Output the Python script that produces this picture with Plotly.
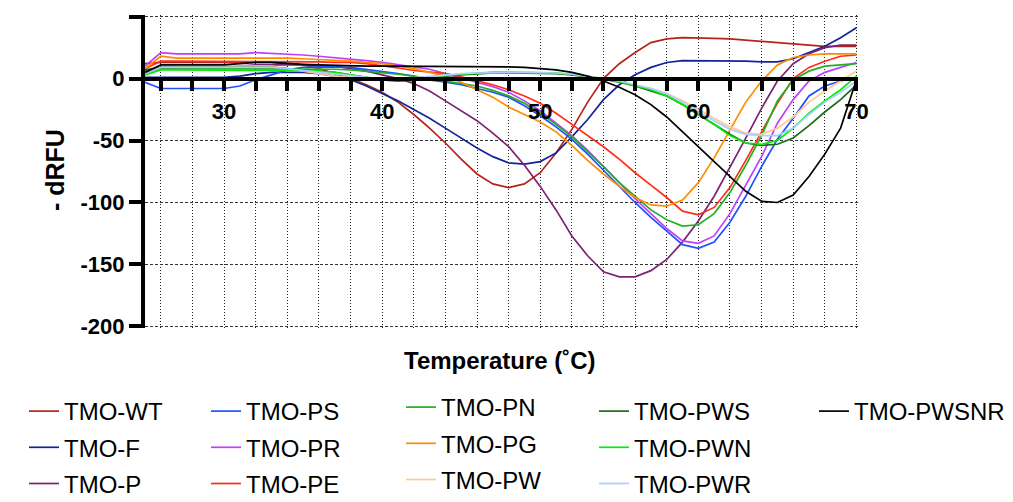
import plotly.graph_objects as go

temps = list(range(25, 71))

tmo_wt = [12, 13, 13, 13, 13, 13, 13, 13, 13, 12, 11, 8, 4, 0, -5, -11, -19, -29, -40, -52,
          -65, -77, -85, -88, -85, -76, -60, -41, -19, 0, 12, 21, 29, 32, 33, 33, 32.5, 32, 31, 30,
          29, 28, 27, 26, 26, 26]
tmo_f = [1, 1, 1, 1, 1, 1, 2, 4, 5, 5, 5, 4, 2, -1, -6, -12, -18, -25, -32, -40,
         -48, -56, -63, -68, -69, -67, -60, -47, -33, -17, -5, 3, 9, 13, 14.5, 14.5, 14.5, 14.5, 14, 13.5,
         13.5, 16, 21, 26, 33, 41]
tmo_p = [6, 9, 9, 9, 9, 9, 10, 11, 11, 11, 11, 10, 10, 8, 6, 3, 0, -4, -10, -18,
         -26, -34, -44, -55, -70, -87, -106, -127, -143, -156, -160, -160, -155, -146, -132, -115, -95, -72, -48, -24,
         -2, 12, 20, 25, 27, 27]
tmo_ps = [-3, -8, -8, -8, -8, -8, -6, -1, 3, 7, 9, 9.5, 9.5, 9, 7.5, 6, 4, 2, -1, -3,
          -5, -8, -11, -15, -22, -30, -39, -49, -61, -74, -87, -100, -112, -123, -134, -137, -132, -116, -95, -71,
          -49, -32, -14, -6, -2, 1]
tmo_pr = [10, 21, 20, 20, 20, 20, 20, 21, 20.5, 20, 19, 18, 17, 16, 14.5, 13, 11, 9.5, 7.5, 4,
          0.5, -2.5, -6.5, -11, -18, -26, -36, -46, -58, -71, -84, -97, -109, -121, -131, -133, -127, -109, -86, -63,
          -36, -17, -2, 5, 9, 13]
tmo_pe = [8, 14, 14, 14, 14, 14, 14, 14, 14, 14, 14, 13.5, 13, 13, 12, 10.5, 8.5, 6.5, 5, 4,
          1.5, -1.5, -5, -9, -14, -20, -28, -37, -46, -55, -65, -76, -86, -96, -107, -110, -104, -88, -66, -43,
          -20, 0, 9, 14, 18, 19]
tmo_pn = [4, 8, 8, 8, 8, 8, 8, 8, 8, 8, 8, 8, 7.5, 7, 6, 5, 3.5, 2, 0, -1.5,
          -3.5, -6, -9.5, -14, -20, -28, -37, -47, -59, -71, -84, -95, -106, -114, -119, -118, -109, -92, -70, -46,
          -18, -1, 6, 10, 11, 12]
tmo_pg = [8, 18, 16.5, 16.5, 16.5, 16.5, 16.5, 17, 17, 16.5, 16, 15.5, 15, 14, 13, 12, 10, 8, 5, 2,
          -3, -9, -15, -23, -29, -35, -43, -54, -66, -77, -87, -96, -102, -103, -98, -84, -64, -41, -19, -2,
          11, 17, 19, 20, 20, 20]
tmo_pw = [5, 11, 10, 10, 10, 10, 10, 10, 10, 8, 6, 4, 2, 1, 0.5, 0, 0, 0.5, 1.5, 3,
          4, 5, 5.5, 5.5, 5.5, 5, 4.5, 3.5, 2, 0, -2, -5, -8, -12, -18, -25, -32, -39, -44, -45,
          -40, -31, -19, -10, -2, 6]
tmo_pws = [7, 9, 9, 9, 9, 9, 9, 9, 9, 8, 7, 6, 5, 3, 1, -1, -2, -1.5, 0, 2,
           3, 4, 4.5, 4.5, 4.5, 4.5, 4, 3, 1.5, -0.5, -3, -6, -10, -14, -21, -29, -37, -45, -52, -54,
           -53, -48, -38, -27, -17, -5]
tmo_pwn = [3, 7, 7, 7, 7, 7, 7, 7, 7, 7, 6.5, 6, 5, 3, 1, -1, -1.5, -1, 0.5, 2.5,
           3.5, 4.5, 5, 5, 5, 5, 4.5, 3.5, 2, 0, -2.5, -5.5, -9, -14, -21, -29, -37, -46, -52, -53,
           -50, -40, -28, -18, -9, 2]
tmo_pwr = [4, 9, 9, 9, 9, 9, 9, 9, 9, 8, 6.5, 5, 3.5, 2, 1, 0, 0, 0.5, 1.5, 3,
           4, 4.5, 5, 5, 5, 5, 4.5, 3.5, 2, 0, -2, -5, -8, -12, -19, -27, -34, -41, -45, -46,
           -46, -40, -29, -19, -11, -2]
tmo_pwsnr = [5, 11, 11, 11, 11, 11, 12, 13, 13, 12, 11.5, 11, 10.5, 10, 10, 10, 10, 10, 10, 10,
             10, 10, 10, 9.5, 9, 8, 7, 5, 2, -2, -7, -13, -21, -31, -43, -55, -67, -79, -91, -99,
             -100, -94, -79, -61, -40, -1]

series = [
    ("TMO-WT", tmo_wt, "#B5241B", "legend"),
    ("TMO-F", tmo_f, "#13249A", "legend"),
    ("TMO-P", tmo_p, "#7A2470", "legend"),
    ("TMO-PS", tmo_ps, "#1F52FF", "legend2"),
    ("TMO-PR", tmo_pr, "#BF3FFF", "legend2"),
    ("TMO-PE", tmo_pe, "#FF2D1A", "legend2"),
    ("TMO-PN", tmo_pn, "#22B022", "legend3"),
    ("TMO-PG", tmo_pg, "#FF8C00", "legend3"),
    ("TMO-PW", tmo_pw, "#FFC896", "legend3"),
    ("TMO-PWS", tmo_pws, "#1A6B1A", "legend4"),
    ("TMO-PWN", tmo_pwn, "#00EE00", "legend4"),
    ("TMO-PWR", tmo_pwr, "#A8CFFF", "legend4"),
    ("TMO-PWSNR", tmo_pwsnr, "#000000", "legend5"),
]

x_tickvals = list(range(26, 71, 2))
x_ticktext = [str(v) if v % 10 == 0 else "" for v in x_tickvals]
y_tickvals = [-200, -150, -100, -50, 0, 50]
y_ticktext = ["-200", "-150", "-100", "-50", "0", "50"]

x_range = [25, 70.1]
y_range = [-201.3, 51.3]

fig = go.Figure()
for name, vals, color, leg in series:
    fig.add_trace(go.Scatter(
        x=temps, y=vals, mode="lines", name=name,
        line=dict(color=color, width=1.7),
        legend=leg, legendgroup=name,
    ))

W, H = 1013, 502
OFF = 8  # page body offset
ml, mt = 137, 7
pw, ph = 713, 313
mr, mb = W - ml - pw, H - mt - ph


def px_x(sx):
    return (sx - OFF - ml) / pw


def px_y(sy):
    return (mt + ph - (sy - OFF)) / ph


axis_font = dict(family="Liberation Sans, Arial, sans-serif", size=22, color="black", weight="bold")
leg_font = dict(family="Liberation Sans, Arial, sans-serif", size=24, color="black")

fig.update_layout(
    width=W, height=H,
    margin=dict(l=ml, r=mr, t=mt, b=mb, autoexpand=False),
    paper_bgcolor="white", plot_bgcolor="white",
    xaxis=dict(
        range=x_range, tickvals=x_tickvals, ticktext=x_ticktext,
        anchor="free", position=(0 - y_range[0]) / (y_range[1] - y_range[0]),
        showline=True, linecolor="black", linewidth=4,
        ticks="outside", ticklen=10, tickwidth=4, tickcolor="black",
        tickfont=axis_font, ticklabelstandoff=2,
        showgrid=True, gridcolor="#222222", gridwidth=1, griddash="1px,2px",
        zeroline=False, automargin=False,
    ),
    yaxis=dict(
        range=y_range, tickvals=y_tickvals, ticktext=y_ticktext,
        showline=True, linecolor="black", linewidth=4,
        ticks="outside", ticklen=12, tickwidth=4, tickcolor="black",
        tickfont=axis_font,
        showgrid=True, gridcolor="#333333", gridwidth=1, griddash="3px,2px",
        zeroline=False, automargin=False,
    ),
    annotations=[
        dict(text="Temperature (˚C)", xref="paper", yref="paper",
             x=px_x(500), y=px_y(360), xanchor="center", yanchor="middle",
             showarrow=False, font=dict(family="Liberation Sans, Arial, sans-serif", size=24,
                                        color="black", weight="bold")),
        dict(text="- dRFU", xref="paper", yref="paper",
             x=px_x(55), y=px_y(170), xanchor="center", yanchor="middle",
             textangle=-90, showarrow=False,
             font=dict(family="Liberation Sans, Arial, sans-serif", size=25, color="black", weight="bold")),
    ],
)

leg_x = [16, 198, 393, 586, 806]
leg_y = [381, 381, 377, 381, 381]
leg_names = ["legend", "legend2", "legend3", "legend4", "legend5"]
for lx, ly, ln in zip(leg_x, leg_y, leg_names):
    fig.update_layout(**{ln: dict(
        xref="container", yref="container", x=lx / W, y=1 - ly / H,
        xanchor="left", yanchor="top", orientation="v",
        font=leg_font, bgcolor="rgba(0,0,0,0)", borderwidth=0,
        tracegroupgap=2, itemwidth=30,
    )})

fig.write_html("out.html")
